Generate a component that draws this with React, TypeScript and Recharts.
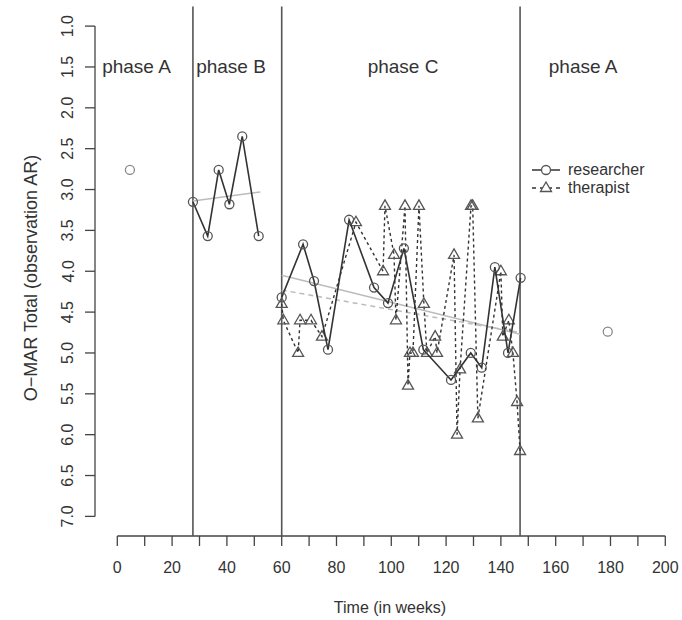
import React from 'react';
import { ComposedChart, Scatter, XAxis, YAxis, ReferenceLine } from 'recharts';

const FONT = '"Liberation Sans", Arial, sans-serif';

// researcher observations (circles, solid line)
const researcherA = [
    { x: 4.6, y: 2.76 },
    { x: 179, y: 4.74 },
];
const researcherB = [
    { x: 27.6, y: 3.15 },
    { x: 33, y: 3.57 },
    { x: 37, y: 2.76 },
    { x: 40.9, y: 3.18 },
    { x: 45.6, y: 2.35 },
    { x: 51.6, y: 3.57 },
];
const researcherC = [
    { x: 60, y: 4.32 },
    { x: 67.8, y: 3.67 },
    { x: 71.8, y: 4.12 },
    { x: 76.9, y: 4.96 },
    { x: 84.6, y: 3.37 },
    { x: 93.7, y: 4.2 },
    { x: 98.8, y: 4.39 },
    { x: 104.6, y: 3.72 },
    { x: 111.7, y: 4.96 },
    { x: 121.8, y: 5.33 },
    { x: 129, y: 5.0 },
    { x: 133, y: 5.18 },
    { x: 137.8, y: 3.95 },
    { x: 142.6, y: 5.0 },
    { x: 147.2, y: 4.08 },
];

// therapist observations (triangles, dashed line)
const therapistC = [
    { x: 60, y: 4.4 },
    { x: 60.6, y: 4.6 },
    { x: 66, y: 5.0 },
    { x: 66.7, y: 4.6 },
    { x: 70.7, y: 4.6 },
    { x: 74.7, y: 4.8 },
    { x: 87.1, y: 3.4 },
    { x: 97, y: 4.0 },
    { x: 97.7, y: 3.2 },
    { x: 101, y: 3.8 },
    { x: 101.7, y: 4.6 },
    { x: 105, y: 3.2 },
    { x: 106.1, y: 5.4 },
    { x: 106.8, y: 5.0 },
    { x: 107.9, y: 5.0 },
    { x: 110.1, y: 3.2 },
    { x: 111.9, y: 4.4 },
    { x: 113, y: 5.0 },
    { x: 116, y: 4.8 },
    { x: 116.7, y: 5.0 },
    { x: 122.9, y: 3.8 },
    { x: 124, y: 6.0 },
    { x: 125.1, y: 5.2 },
    { x: 129.1, y: 3.2 },
    { x: 129.7, y: 3.2 },
    { x: 131.6, y: 5.8 },
    { x: 140, y: 4.0 },
    { x: 140.7, y: 4.8 },
    { x: 142.9, y: 4.6 },
    { x: 144.4, y: 5.0 },
    { x: 145.9, y: 5.6 },
    { x: 147, y: 6.2 },
];

// fitted trend lines per phase
const trendResearcherB = [
    { x: 27.6, y: 3.14 },
    { x: 52.2, y: 3.03 },
];
const trendResearcherC = [
    { x: 60, y: 4.05 },
    { x: 147, y: 4.77 },
];
const trendTherapistC = [
    { x: 60, y: 4.23 },
    { x: 147, y: 4.75 },
];

const phaseBreaks = [27.6, 60, 147];
const phaseLabels = [
    { x: 7, y: 1.5, label: 'phase A' },
    { x: 41.5, y: 1.5, label: 'phase B' },
    { x: 104.3, y: 1.5, label: 'phase C' },
    { x: 170, y: 1.5, label: 'phase A' },
];

const xTicks = [0, 10, 20, 30, 40, 50, 60, 70, 80, 90, 100, 110, 120, 130, 140, 150, 160, 170, 180, 190, 200];
const yTicks = [1, 1.5, 2, 2.5, 3, 3.5, 4, 4.5, 5, 5.5, 6, 6.5, 7];

const X_DOMAIN: [number, number] = [-8.14, 206.1];
const Y_DOMAIN: [number, number] = [0.76, 7.24];
const PLOT_BOTTOM = 536;

const OpenCircle = (props: any) => {
    const { cx, cy, fill } = props;
    return <circle cx={cx} cy={cy} r={4.5} fill="none" stroke={fill || '#555'} strokeWidth={1.3} />;
};

const OpenTriangle = (props: any) => {
    const { cx, cy } = props;
    const pts = `${cx},${cy - 6} ${cx - 5.5},${cy + 3.5} ${cx + 5.5},${cy + 3.5}`;
    return <polygon points={pts} fill="none" stroke="#555" strokeWidth={1.3} />;
};

const PhaseText = (props: any) => {
    const { cx, cy, payload } = props;
    return (
        <text x={cx} y={cy + 6} textAnchor="middle" fontFamily={FONT} fontSize={19} fill="#333">
            {payload.label}
        </text>
    );
};

const XTick = (props: any) => {
    const { x, payload } = props;
    const v = payload.value;
    const y = PLOT_BOTTOM;
    return (
        <g>
            <line x1={x} y1={y} x2={x} y2={y + 10} stroke="#444" strokeWidth={1.3} />
            {v % 20 === 0 && (
                <text x={x} y={y + 37} textAnchor="middle" fontFamily={FONT} fontSize={16} fill="#333">
                    {v}
                </text>
            )}
        </g>
    );
};

const YTick = (props: any) => {
    const { y, payload } = props;
    const ax = 95;
    return (
        <g>
            <line x1={ax - 10} y1={y} x2={ax} y2={y} stroke="#444" strokeWidth={1.3} />
            <text
                x={73.5}
                y={y}
                transform={`rotate(-90, 73.5, ${y})`}
                textAnchor="middle"
                fontFamily={FONT}
                fontSize={16}
                fill="#333"
            >
                {payload.value.toFixed(1)}
            </text>
        </g>
    );
};

const LegendBox = () => (
    <div
        style={{
            position: 'absolute',
            left: 530,
            top: 161,
            fontFamily: FONT,
            fontSize: 16,
            color: '#333',
            lineHeight: '18px',
        }}
    >
        <div style={{ display: 'flex', alignItems: 'center' }}>
            <svg width={38} height={18}>
                <line x1={2} y1={9} x2={30} y2={9} stroke="#333" strokeWidth={1.5} />
                <circle cx={16} cy={9} r={4.5} fill="white" stroke="#555" strokeWidth={1.3} />
            </svg>
            <span>researcher</span>
        </div>
        <div style={{ display: 'flex', alignItems: 'center' }}>
            <svg width={38} height={18}>
                <line x1={2} y1={9} x2={30} y2={9} stroke="#333" strokeWidth={1.5} strokeDasharray="4 4" />
                <polygon points="16,3 10.5,12.5 21.5,12.5" fill="white" stroke="#555" strokeWidth={1.3} />
            </svg>
            <span>therapist</span>
        </div>
    </div>
);

export default function App() {
    return (
        <div style={{ position: 'absolute', left: 0, top: 0, width: 682, height: 620 }}>
            <ComposedChart width={682} height={620} margin={{ top: 6.5, right: 0, bottom: 0, left: 0 }}>
                <XAxis
                    type="number"
                    dataKey="x"
                    domain={X_DOMAIN}
                    ticks={xTicks}
                    interval={0}
                    allowDataOverflow
                    axisLine={false}
                    tickLine={false}
                    tickSize={0}
                    tickMargin={0}
                    tick={<XTick />}
                    height={620 - PLOT_BOTTOM}
                    label={{
                        value: 'Time (in weeks)',
                        content: () => (
                            <text x={390} y={613} textAnchor="middle" fontFamily={FONT} fontSize={16} fill="#333">
                                Time (in weeks)
                            </text>
                        ),
                    }}
                />
                <YAxis
                    type="number"
                    dataKey="y"
                    domain={Y_DOMAIN}
                    ticks={yTicks}
                    interval={0}
                    reversed
                    allowDataOverflow
                    axisLine={false}
                    tickLine={false}
                    tickSize={0}
                    tickMargin={0}
                    tick={<YTick />}
                    width={95}
                    label={{
                        value: 'O−MAR Total (observation AR)',
                        content: () => (
                            <text
                                x={37}
                                y={278}
                                transform="rotate(-90, 37, 278)"
                                textAnchor="middle"
                                fontFamily={FONT}
                                fontSize={18}
                                fill="#333"
                            >
                                O−MAR Total (observation AR)
                            </text>
                        ),
                    }}
                />

                {/* R style detached axes */}
                <ReferenceLine
                    segment={[{ x: 0, y: Y_DOMAIN[1] }, { x: 200, y: Y_DOMAIN[1] }]}
                    stroke="#444"
                    strokeWidth={1.3}
                    ifOverflow="visible"
                />
                <ReferenceLine
                    segment={[{ x: X_DOMAIN[0], y: 1 }, { x: X_DOMAIN[0], y: 7 }]}
                    stroke="#444"
                    strokeWidth={1.3}
                    ifOverflow="visible"
                />

                {phaseBreaks.map((b) => (
                    <ReferenceLine key={b} x={b} stroke="#555" strokeWidth={1.6} ifOverflow="visible" />
                ))}

                <ReferenceLine segment={trendResearcherB} stroke="#bbb" strokeWidth={1.5} />
                <ReferenceLine segment={trendResearcherC} stroke="#bbb" strokeWidth={1.5} />
                <ReferenceLine segment={trendTherapistC} stroke="#bbb" strokeWidth={1.5} strokeDasharray="5 4" />

                <Scatter
                    data={therapistC}
                    shape={<OpenTriangle />}
                    line={{ stroke: '#333', strokeWidth: 1.4, strokeDasharray: '3 3' }}
                    isAnimationActive={false}
                />
                <Scatter
                    data={researcherB}
                    shape={<OpenCircle />}
                    line={{ stroke: '#333', strokeWidth: 1.6 }}
                    isAnimationActive={false}
                />
                <Scatter
                    data={researcherC}
                    shape={<OpenCircle />}
                    line={{ stroke: '#333', strokeWidth: 1.6 }}
                    isAnimationActive={false}
                />
                <Scatter data={researcherA} shape={<OpenCircle fill="#888" />} isAnimationActive={false} />
                <Scatter data={phaseLabels} shape={<PhaseText />} isAnimationActive={false} />
            </ComposedChart>
            <LegendBox />
        </div>
    );
}
